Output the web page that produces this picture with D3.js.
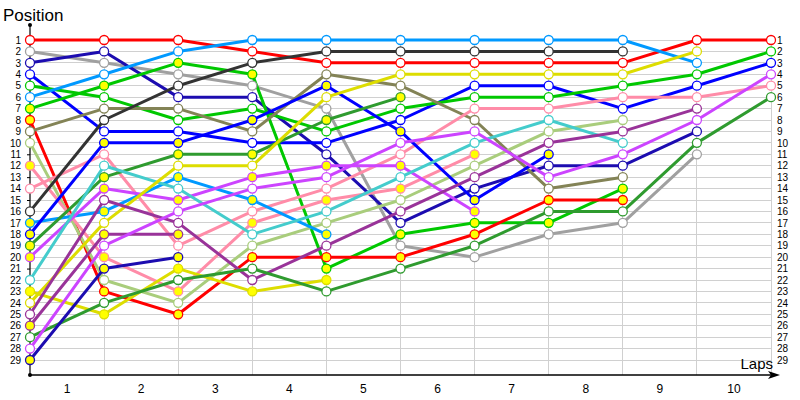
<!DOCTYPE html>
<html><head><meta charset="utf-8">
<script src="https://cdn.jsdelivr.net/npm/d3@7"></script>
<style>
body{margin:0;background:#fff}
text{font-family:"Liberation Sans",Arial,sans-serif;fill:#000}
</style>
</head><body>
<svg id="chart" width="800" height="400"></svg>
<script>
// ---------- DATA ----------
const lapPoints = [0,1,2,3,4,5,6,7,8,9,10];
const lapLabels = ["1","2","3","4","5","6","7","8","9","10"];
const positionTicks = [1,2,3,4,5,6,7,8,9,10,11,12,13,14,15,16,17,18,19,20,21,22,23,24,25,26,27,28,29];

// position of each driver after each lap (index 0 = start); arrays end when the driver retires
const redW       = [1,1,1,2,3,3,3,3,3,1,1];
const grayW      = [2,3,4,5,7,19,20,18,17,11];
const navyW      = [3,2,6,6,11,17,14,12,12,9];
const blueW      = [4,9,9,10,10,8,5,5,7,5,3];
const greenW     = [5,6,8,7,9,7,6,6,5,4,2];
const skyW       = [6,4,2,1,1,1,1,1,1,3];
const greenY     = [7,5,3,4,21,18,17,17,14];
const redY       = [8,23,25,20,20,20,18,15,15];
const oliveW     = [9,7,7,9,4,5,8,14,13];
const lightGreenW= [10,22,24,19,17,15,12,9,8];
const pinkY      = [12,20,23,17,15,14,11];
const pinkW      = [14,11,19,16,14,11,7,7,6,6,5];
const blackW     = [16,8,5,3,2,2,2,2,2];
const skyY       = [17,16,13,15,18];
const blueY      = [18,10,10,8,5,9,15,11];
const darkGreenY = [19,13,11,11,8,6];
const magentaY   = [20,14,15,13,12,12,16];
const cyanW      = [22,12,14,18,16,13,10,8,10];
const yellowY    = [23,25,21,23,22];
const yellowW    = [24,17,12,12,6,4,4,4,4,2];
const purpleW    = [25,15,17,22,19,16,13,10,9,7];
const purpleY    = [26,18,18];
const darkGreenW = [27,24,22,21,23,21,19,16,16,10,6];
const magentaW   = [28,19,16,14,13,10,9,13,11,8,4];
const navyY      = [29,21,20];

const seriesValues = [redW,grayW,navyW,blueW,greenW,skyW,greenY,redY,oliveW,lightGreenW,pinkY,pinkW,blackW,skyY,blueY,darkGreenY,magentaY,cyanW,yellowY,yellowW,purpleW,purpleY,darkGreenW,magentaW,navyY];
const seriesColors = ["#ff0000","#a0a0a0","#1c0cb0","#0000ff","#00c800","#0099ff","#00c800","#ff0000","#838356","#a9cd7c","#ff8ca8","#ff8ca8","#333333","#0099ff","#0000ff","#2f9b2f","#cc44ff","#44cccc","#dddd00","#dddd00","#993399","#993399","#2f9b2f","#cc44ff","#1c0cb0"];
const seriesFills  = ["#fff","#fff","#fff","#fff","#fff","#fff","#ffff00","#ffff00","#fff","#fff","#ffff00","#fff","#fff","#ffff00","#ffff00","#ffff00","#ffff00","#fff","#ffff00","#fff","#fff","#ffff00","#fff","#fff","#ffff00"];

// ---------- CHART ----------
const svg = d3.select("#chart");
const x = d3.scaleLinear().domain([0,10]).range([30,771]);
const y = d3.scaleLinear().domain([1,29]).range([40,360]);
const axisY = 375;
const band = d3.scaleBand().domain(lapLabels).range([30,771]);

// horizontal grid
svg.append("g").selectAll("line").data(positionTicks).join("line")
  .attr("x1", x(0)).attr("x2", x(10))
  .attr("y1", d=>y(d)).attr("y2", d=>y(d))
  .attr("stroke","#d0d0d0").attr("stroke-width",1).attr("shape-rendering","crispEdges");
// vertical grid
svg.append("g").selectAll("line").data(lapPoints.slice(1)).join("line")
  .attr("x1", d=>x(d)).attr("x2", d=>x(d))
  .attr("y1", y(1)).attr("y2", axisY)
  .attr("stroke","#d0d0d0").attr("stroke-width",1).attr("shape-rendering","crispEdges");

// left axis
const gL = svg.append("g").attr("transform",`translate(${x(0)},0)`)
  .call(d3.axisLeft(y).tickValues(positionTicks).tickSize(3).tickPadding(6).tickFormat(d3.format("d")));
gL.select(".domain").remove();
gL.selectAll("text").style("font-size","10px");
svg.append("line").attr("x1",x(0)).attr("x2",x(0)).attr("y1",25).attr("y2",axisY)
  .attr("stroke","#000").attr("stroke-width",1.2);
svg.append("circle").attr("cx",x(0)).attr("cy",25).attr("r",2).attr("fill","#000");
svg.append("circle").attr("cx",x(0)).attr("cy",axisY).attr("r",2).attr("fill","#000");

// right labels
const gR = svg.append("g").attr("transform",`translate(${x(10)},0)`)
  .call(d3.axisRight(y).tickValues(positionTicks).tickSize(0).tickPadding(6).tickFormat(d3.format("d")));
gR.select(".domain").remove();
gR.selectAll("text").style("font-size","10px");

// bottom axis
const gB = svg.append("g").attr("transform",`translate(0,${axisY})`)
  .call(d3.axisBottom(band).tickSize(0).tickPadding(9));
gB.select(".domain").remove();
gB.selectAll("text").style("font-size","12px");
svg.append("line").attr("x1",x(0)).attr("x2",772).attr("y1",axisY).attr("y2",axisY)
  .attr("stroke","#000").attr("stroke-width",1.5);
svg.append("path").attr("d",`M780,${axisY} L768,${axisY-4} L771,${axisY} L768,${axisY+4} Z`).attr("fill","#000");

// titles
svg.append("text").attr("x",3).attr("y",21).style("font-size","17px").text("Position");
svg.append("text").attr("x",773).attr("y",369).attr("text-anchor","end").style("font-size","15px").text("Laps");

// lines
const line = d3.line().x((d,i)=>x(lapPoints[i])).y(d=>y(d));
svg.append("g").selectAll("path").data(seriesValues).join("path")
  .attr("d", d=>line(d))
  .attr("fill","none")
  .attr("stroke",(d,i)=>seriesColors[i])
  .attr("stroke-width",3)
  .attr("stroke-linejoin","round");

// markers
const mg = svg.append("g");
seriesValues.forEach((vals,si)=>{
  mg.append("g").selectAll("circle").data(vals).join("circle")
    .attr("cx",(d,i)=>x(lapPoints[i])).attr("cy",d=>y(d)).attr("r",4.5)
    .attr("fill",seriesFills[si]).attr("stroke",seriesColors[si]).attr("stroke-width",1.3);
});
</script>
</body></html>
